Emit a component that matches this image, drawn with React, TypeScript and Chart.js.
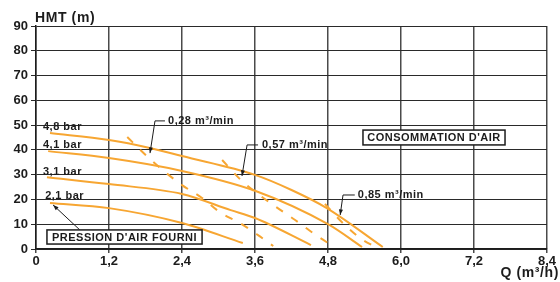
import React, { useEffect, useRef } from "react";
import { Chart, registerables } from "chart.js";

Chart.register(...registerables);

// ---- Data ----
const xTickValues = [0, 1.2, 2.4, 3.6, 4.8, 6.0, 7.2, 8.4];
const xTickLabels = ["0", "1,2", "2,4", "3,6", "4,8", "6,0", "7,2", "8,4"];
const yTickValues = [0, 10, 20, 30, 40, 50, 60, 70, 80, 90];

// Pressure curves (solid)
const q48 = [0.23, 1.2, 1.87, 2.4, 3.6, 4.2, 4.78, 5.7];
const h48 = [46.8, 44.0, 40.8, 37.5, 29.9, 23.8, 16.5, 0.8];
const q41 = [0.2, 1.2, 2.4, 3.6, 4.8, 5.36];
const h41 = [39.5, 36.7, 31.5, 23.5, 10.0, 0.8];
const q31 = [0.18, 1.2, 2.4, 3.2, 3.6, 4.52];
const h31 = [29.0, 26.2, 22.2, 15.7, 12.5, 1.6];
const q21 = [0.23, 1.2, 2.4, 3.4];
const h21 = [18.6, 16.5, 10.5, 2.4];

// Air consumption curves (dashed)
const q028 = [1.5, 1.84, 2.12, 2.4, 2.73, 3.02, 3.35, 3.65, 3.9];
const h028 = [45.2, 37.1, 31.1, 25.8, 20.6, 14.9, 10.5, 5.6, 1.2];
const q057 = [3.06, 3.37, 3.65, 3.95, 4.26, 4.55, 4.8];
const h057 = [35.9, 27.8, 22.2, 16.9, 11.7, 6.5, 2.4];
const q085 = [4.75, 5.01, 5.33, 5.61];
const h085 = [18.2, 11.3, 4.4, 0.4];

const pressureLabels = ["4,8 bar", "4,1 bar", "3,1 bar", "2,1 bar"];
const airLabels = ["0,28 m³/min", "0,57 m³/min", "0,85 m³/min"];

const ORANGE = "#F7A632";
const FONT = '"Liberation Sans", Arial, Helvetica, sans-serif';

const pts = (qs: number[], hs: number[]) => qs.map((q, i) => ({ x: q, y: hs[i] }));

function arrow(ctx: CanvasRenderingContext2D, x1: number, y1: number, x2: number, y2: number, head = 6) {
  ctx.beginPath();
  ctx.moveTo(x1, y1);
  ctx.lineTo(x2, y2);
  ctx.stroke();
  const a = Math.atan2(y2 - y1, x2 - x1);
  ctx.beginPath();
  ctx.moveTo(x2, y2);
  ctx.lineTo(x2 - head * Math.cos(a - 0.35), y2 - head * Math.sin(a - 0.35));
  ctx.lineTo(x2 - head * Math.cos(a + 0.35), y2 - head * Math.sin(a + 0.35));
  ctx.closePath();
  ctx.fill();
}

const annotationPlugin = {
  id: "annotations",
  afterDraw(chart: any) {
    const { ctx, scales } = chart;
    const xs = scales.x;
    const ys = scales.y;
    const px = (q: number) => xs.getPixelForValue(q);
    const py = (h: number) => ys.getPixelForValue(h);
    ctx.save();
    ctx.fillStyle = "#1c1c1c";
    ctx.strokeStyle = "#1c1c1c";
    ctx.textBaseline = "middle";
    (ctx as any).letterSpacing = "0.5px";
    ctx.font = `bold 11px ${FONT}`;

    // pressure labels
    const pLab = [
      [0.115, 49.2],
      [0.115, 41.8],
      [0.115, 31.1],
      [0.15, 21.4],
    ];
    pressureLabels.forEach((t, i) => {
      ctx.textAlign = "left";
      ctx.fillText(t, px(pLab[i][0]), py(pLab[i][1]));
    });

    // air consumption labels with leaders
    const aLab = [
      { tx: 2.17, ty: 51.7, hx1: 1.956, hx2: 2.12, ex: 1.874, ey: 38.7 },
      { tx: 3.715, ty: 42.0, hx1: 3.47, hx2: 3.65, ex: 3.386, ey: 29.5 },
      { tx: 5.29, ty: 21.8, hx1: 5.047, hx2: 5.24, ex: 5.0, ey: 13.7 },
    ];
    ctx.lineWidth = 1;
    airLabels.forEach((t, i) => {
      const a = aLab[i];
      ctx.textAlign = "left";
      ctx.fillText(t, px(a.tx), py(a.ty));
      ctx.beginPath();
      ctx.moveTo(px(a.hx2), py(a.ty));
      ctx.lineTo(px(a.hx1), py(a.ty));
      ctx.stroke();
      arrow(ctx, px(a.hx1), py(a.ty), px(a.ex), py(a.ey), 6);
    });

    // boxes
    const box = (t: string, q1: number, h1: number, q2: number, h2: number) => {
      const x1 = px(q1), y1 = py(h1), x2 = px(q2), y2 = py(h2);
      ctx.fillStyle = "#ffffff";
      ctx.fillRect(x1, y1, x2 - x1, y2 - y1);
      ctx.lineWidth = 1.5;
      ctx.strokeStyle = "#1c1c1c";
      ctx.strokeRect(x1, y1, x2 - x1, y2 - y1);
      ctx.fillStyle = "#1c1c1c";
      ctx.textAlign = "center";
      ctx.fillText(t, (x1 + x2) / 2, (y1 + y2) / 2 + 0.5);
    };
    box("CONSOMMATION D'AIR", 5.375, 48.0, 7.71, 42.0);
    ctx.lineWidth = 1;
    arrow(ctx, px(0.72), py(7.7), px(0.28), py(17.8), 6);
    box("PRESSION D'AIR FOURNI", 0.18, 7.7, 2.73, 2.0);

    // axis titles
    ctx.fillStyle = "#1c1c1c";
    ctx.font = `bold 14px ${FONT}`;
    (ctx as any).letterSpacing = "0.6px";
    ctx.textAlign = "left";
    ctx.fillText("HMT (m)", 35, 18);
    ctx.textAlign = "right";
    ctx.fillText("Q (m³/h)", 559, 273);
    ctx.restore();
  },
};

export default function App() {
  const ref = useRef<HTMLCanvasElement | null>(null);
  useEffect(() => {
    if (!ref.current) return;
    const solid = (data: any) => ({
      data,
      borderColor: ORANGE,
      borderWidth: 2,
      pointRadius: 0,
      fill: false,
      tension: 0.4,
      cubicInterpolationMode: "monotone" as const,
    });
    const dashed = (data: any) => ({
      ...solid(data),
      borderDash: [8, 10],
    });
    const chart = new Chart(ref.current, {
      type: "line",
      data: {
        datasets: [
          solid(pts(q48, h48)),
          solid(pts(q41, h41)),
          solid(pts(q31, h31)),
          solid(pts(q21, h21)),
          dashed(pts(q028, h028)),
          dashed(pts(q057, h057)),
          dashed(pts(q085, h085)),
        ],
      },
      options: {
        animation: false,
        responsive: false,
        layout: { padding: { top: 26, right: 13, left: 0, bottom: 0 } },
        plugins: { legend: { display: false }, tooltip: { enabled: false }, title: { display: false } },
        scales: {
          x: {
            type: "linear",
            min: 0,
            max: 8.4,
            afterBuildTicks: (s: any) => {
              s.ticks = xTickValues.map((v) => ({ value: v }));
            },
            afterFit: (s: any) => {
              s.height = 33;
            },
            ticks: {
              autoSkip: false,
              maxRotation: 0,
              padding: 1,
              color: "#1c1c1c",
              font: { family: FONT, size: 13, weight: "bold" },
              callback: (_v: any, i: number) => xTickLabels[i],
            },
            grid: { color: "#4a4a4a", lineWidth: 1.5, tickLength: 4 },
            border: { color: "#1c1c1c", width: 1.5 },
          },
          y: {
            type: "linear",
            min: 0,
            max: 90,
            afterBuildTicks: (s: any) => {
              s.ticks = yTickValues.map((v) => ({ value: v }));
            },
            afterFit: (s: any) => {
              s.width = 36;
            },
            ticks: {
              padding: 3,
              color: "#1c1c1c",
              font: { family: FONT, size: 13, weight: "bold" },
              callback: (v: any) => String(v),
            },
            grid: { color: "#2a2a2a", lineWidth: 1, tickLength: 5 },
            border: { color: "#1c1c1c", width: 1.5 },
          },
        },
      },
      plugins: [annotationPlugin],
    });
    return () => chart.destroy();
  }, []);
  return (
    <div style={{ position: "fixed", left: 0, top: 0, width: 560, height: 282, background: "#fff" }}>
      <canvas ref={ref} width={560} height={282} style={{ display: "block", width: 560, height: 282 }} />
    </div>
  );
}
